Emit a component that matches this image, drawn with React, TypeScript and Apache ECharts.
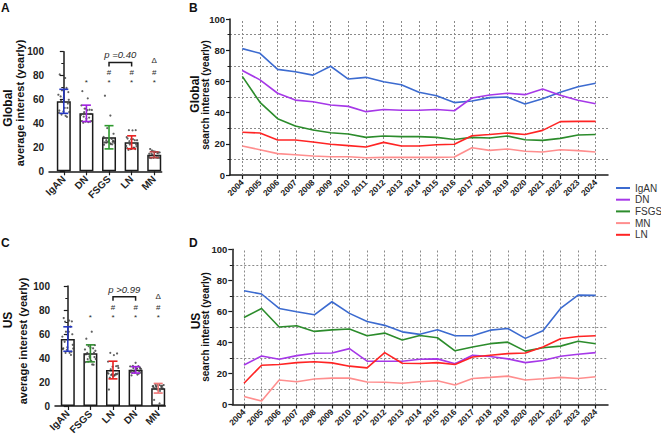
import React, { useEffect, useRef } from 'react';
import * as echarts from 'echarts';

// ---------- data ----------
const years = [2004, 2005, 2006, 2007, 2008, 2009, 2010, 2011, 2012, 2013, 2014, 2015, 2016, 2017, 2018, 2019, 2020, 2021, 2022, 2023, 2024];
const legendNames = ['IgAN', 'DN', 'FSGS', 'MN', 'LN'];

const globalIgAN = [81, 78, 67.7, 66.2, 64, 69.7, 61.5, 62.6, 59.8, 57.9, 53, 50.8, 46.4, 47.4, 49.6, 50, 45.5, 48.9, 53, 56.6, 58.8];
const globalDN = [67, 61, 52.4, 48, 47, 44.9, 44, 40.6, 42, 41.5, 41.5, 42, 41.2, 49.4, 51.3, 52.4, 51.5, 55.1, 51.1, 47.9, 45.7];
const globalFSGS = [63.2, 46.6, 36.1, 31.4, 28.8, 27.1, 26.3, 24.1, 25, 24.6, 24.6, 24.1, 22.8, 24.1, 23.7, 25, 22.6, 22.2, 23.5, 25.6, 26];
const globalMN = [18.6, 16.2, 13.7, 13, 12.2, 11.7, 11.7, 11.1, 11.3, 11.3, 11.3, 11.3, 11.5, 17.5, 15.8, 16.7, 15.2, 14.7, 16.2, 15.6, 14.7];
const globalLN = [27.4, 26.9, 22.4, 22.4, 21.2, 19.7, 18.8, 17.9, 20.9, 18.6, 18.6, 19.4, 19.7, 25.2, 26, 26.9, 26, 28.6, 34.2, 34.4, 34.4];

const usIgAN = [73.3, 71.2, 61.9, 59.8, 57.8, 66.2, 58.7, 53.5, 51, 46.8, 45.2, 48.1, 44.3, 44.3, 47.9, 49, 42.6, 47.5, 61.9, 70.5, 70.3];
const usDN = [25.5, 31.3, 29.2, 31.5, 33, 33.2, 36, 27.9, 27.9, 27.9, 29.2, 29.4, 26.2, 31.7, 30.9, 29.4, 27, 28.3, 31.1, 32.4, 33.4];
const usFSGS = [56.1, 61.9, 49.9, 50.7, 47.1, 48.1, 48.6, 44.3, 46, 41.5, 44.5, 43, 34.6, 37, 39.2, 40.2, 34.4, 36.6, 37.6, 40.8, 39.1];
const usMN = [5.1, 2.2, 15.8, 14.7, 16.4, 17, 17, 14.5, 14.3, 13.7, 14.7, 15.3, 12.6, 16.8, 17.5, 18.3, 15.8, 16.6, 17.5, 16.8, 17.9];
const usLN = [13.7, 25.3, 25.8, 27, 27.5, 26.8, 24.7, 23.6, 33.4, 26.6, 26.4, 27, 25.8, 30.6, 31.7, 32.8, 33.2, 37, 42.4, 43.8, 44.3];

const catsA = ['IgAN', 'DN', 'FSGS', 'LN', 'MN'];
const catsC = ['IgAN', 'FSGS', 'LN', 'DN', 'MN'];

// significance marks: [category, symbol, height]
const marksA: [string, string, number][] = [
  ['DN', '*', 74.5], ['FSGS', '#', 82.5], ['FSGS', '*', 74.5], ['LN', '#', 82.5], ['LN', '*', 74.5],
  ['MN', 'Δ', 92.5], ['MN', '#', 82.5], ['MN', '*', 74.5],
];
const marksC: [string, string, number][] = [
  ['FSGS', '*', 73.5], ['LN', '#', 82], ['LN', '*', 73.5], ['DN', '#', 82], ['DN', '*', 73.5],
  ['MN', 'Δ', 91], ['MN', '#', 82], ['MN', '*', 73.5],
];
const bracketA = { from: 'FSGS', to: 'LN', text: 'p =0.40' };
const bracketC = { from: 'LN', to: 'DN', text: 'p >0.99' };

// ---------- style ----------
const FONT = '"Liberation Sans", Arial, sans-serif';
const AX = '#1b1b1b';
const TXT = '#2a2a2a';
const lineColors: Record<string, string> = { IgAN: '#3C6BD0', DN: '#A638E8', FSGS: '#2C8C2C', MN: '#FF8E8E', LN: '#FF2424' };
const errColorsA: Record<string, string> = { IgAN: '#2638C0', DN: '#A020E0', FSGS: '#2E9A2E', LN: '#E82020', MN: '#B84444' };
const errColorsC: Record<string, string> = { IgAN: '#2638C0', DN: '#A020E0', FSGS: '#2E8A2E', LN: '#E82020', MN: '#F07878' };
const jitter = [-0.18, 0.06, -0.08, 0.2, -0.24, 0.12, 0.0, -0.14, 0.22, -0.04, 0.16, -0.2, 0.08, -0.1, 0.24, -0.02, 0.14, -0.22, 0.04, 0.18, -0.12];

const globalData: Record<string, number[]> = { IgAN: globalIgAN, DN: globalDN, FSGS: globalFSGS, MN: globalMN, LN: globalLN };
const usData: Record<string, number[]> = { IgAN: usIgAN, DN: usDN, FSGS: usFSGS, MN: usMN, LN: usLN };

function mean(a: number[]) { return a.reduce((s, v) => s + v, 0) / a.length; }
function sd(a: number[]) { const m = mean(a); return Math.sqrt(a.reduce((s, v) => s + (v - m) * (v - m), 0) / (a.length - 1)); }

function barPanelSeries(ax: number, cats: string[], data: Record<string, number[]>, errColors: Record<string, string>, marks: [string, string, number][], bracket: { from: string; to: string; text: string }, bracketY: number, textY: number) {
  const s: any[] = [];
  s.push({
    type: 'bar', xAxisIndex: ax, yAxisIndex: ax, barWidth: 14, silent: true, z: 2,
    data: cats.map((c, i) => [i, mean(data[c])]),
    itemStyle: { color: '#ffffff', borderColor: AX, borderWidth: 1.5 },
  });
  s.push({
    type: 'scatter', xAxisIndex: ax, yAxisIndex: ax, symbolSize: 2.2, silent: true, z: 3,
    itemStyle: { color: '#3a3a3a' },
    data: cats.flatMap((c, i) => data[c].map((v, j) => [i + jitter[j], v])),
  });
  s.push({
    type: 'custom', xAxisIndex: ax, yAxisIndex: ax, silent: true, z: 4,
    itemStyle: { color: AX },
    data: cats.map((c, i) => { const m = mean(data[c]); const d = sd(data[c]); return [i, m - d, m + d]; }),
    renderItem: (params: any, api: any) => {
      const x = api.value(0);
      const lo = api.coord([x, api.value(1)]);
      const hi = api.coord([x, api.value(2)]);
      const col = errColors[cats[params.dataIndex]];
      const cw = 4.5;
      const st = { stroke: col, lineWidth: 1.6 };
      return {
        type: 'group', children: [
          { type: 'line', shape: { x1: hi[0], y1: hi[1], x2: lo[0], y2: lo[1] }, style: st },
          { type: 'line', shape: { x1: hi[0] - cw, y1: hi[1], x2: hi[0] + cw, y2: hi[1] }, style: st },
          { type: 'line', shape: { x1: lo[0] - cw, y1: lo[1], x2: lo[0] + cw, y2: lo[1] }, style: st },
        ],
      };
    },
  });
  // significance symbols
  s.push({
    type: 'custom', xAxisIndex: ax, yAxisIndex: ax, silent: true, z: 5,
    itemStyle: { color: TXT },
    data: marks.map(([c, , h]) => [cats.indexOf(c), h]),
    renderItem: (params: any, api: any) => {
      const p = api.coord([api.value(0), api.value(1)]);
      return {
        type: 'text', x: p[0], y: p[1],
        style: { text: marks[params.dataIndex][1], font: `8px ${FONT}`, fill: TXT, textAlign: 'center', textVerticalAlign: 'middle' },
      };
    },
  });
  const i1 = cats.indexOf(bracket.from);
  const i2 = cats.indexOf(bracket.to);
  s.push({
    type: 'custom', xAxisIndex: ax, yAxisIndex: ax, silent: true, z: 5,
    itemStyle: { color: TXT },
    data: [[i1, i2, bracketY, textY]],
    renderItem: (params: any, api: any) => {
      const a = api.coord([api.value(0), api.value(2)]);
      const b = api.coord([api.value(1), api.value(2)]);
      const t = api.coord([(api.value(0) + api.value(1)) / 2, api.value(3)]);
      return {
        type: 'group', children: [
          {
            type: 'polyline',
            shape: { points: [[a[0], a[1] + 4], a, b, [b[0], b[1] + 4]] },
            style: { stroke: AX, lineWidth: 1.5, fill: 'none' },
          },
          {
            type: 'text', x: t[0], y: t[1],
            style: { text: bracket.text, font: `italic 9.5px ${FONT}`, fill: TXT, textAlign: 'center', textVerticalAlign: 'middle' },
          },
        ],
      };
    },
  });
  return s;
}

function lineSeries(ax: number, data: Record<string, number[]>) {
  const s: any[] = [];
  s.push({
    type: 'line', xAxisIndex: ax, yAxisIndex: ax, data: [], silent: true, z: 1,
    markLine: {
      silent: true, symbol: ['none', 'none'], z: 1, animation: false,
      label: { show: false },
      lineStyle: { color: '#8a8a8a', type: [2, 2], width: 1 },
      data: years.map((y) => ({ xAxis: y })),
    },
  });
  ['IgAN', 'DN', 'FSGS', 'LN', 'MN'].forEach((k) => {
    s.push({
      type: 'line', name: k, xAxisIndex: ax, yAxisIndex: ax, showSymbol: false, symbol: 'none', z: 3,
      color: lineColors[k],
      lineStyle: { color: lineColors[k], width: 1.6 },
      data: years.map((y, i) => [y, data[k][i]]),
    });
  });
  return s;
}

function yAxisCfg(grid: number, dotted: boolean, fs: number, margin: number) {
  return {
    type: 'value', gridIndex: grid, min: 0, max: 100, interval: 20,
    axisLine: { show: true, lineStyle: { color: AX, width: 1.5 } },
    axisTick: { show: true, length: 4, lineStyle: { color: AX, width: 1.2 } },
    minorTick: { show: true, splitNumber: 2, length: 2.5, lineStyle: { color: AX, width: 1 } },
    splitLine: { show: false },
    minorSplitLine: { show: dotted, lineStyle: { color: '#8a8a8a', type: [2, 2], width: 1 } },
    axisLabel: { fontSize: fs, fontWeight: 'bold', color: '#222', margin, fontFamily: FONT },
  };
}

function xCatAxisCfg(grid: number, cats: string[], min: number, max: number) {
  const idx = cats.map((_, i) => i);
  return {
    type: 'value', gridIndex: grid, min, max,
    axisLine: { show: true, onZero: false, lineStyle: { color: AX, width: 1.5 } },
    axisTick: { show: true, customValues: idx, length: 4, lineStyle: { color: AX, width: 1.2 } },
    axisLabel: { customValues: idx, formatter: (v: number) => cats[Math.round(v)] ?? '', rotate: 45, fontSize: 10, fontWeight: 'bold', color: '#222', margin: 6, fontFamily: FONT },
    splitLine: { show: false },
  };
}

function xYearAxisCfg(grid: number, min: number, max: number) {
  return {
    type: 'value', gridIndex: grid, min, max,
    axisLine: { show: true, onZero: false, lineStyle: { color: AX, width: 1.5 } },
    axisTick: { show: true, customValues: years, length: 4, lineStyle: { color: AX, width: 1.2 } },
    axisLabel: { customValues: years, formatter: (v: number) => String(v), rotate: 45, fontSize: 8.5, fontWeight: 'bold', color: '#222', margin: 6, fontFamily: FONT },
    splitLine: { show: false },
  };
}

function vText(text: string, x: number, y: number, size: number) {
  return {
    type: 'text', x, y, rotation: Math.PI / 2, silent: true,
    style: { text, font: `bold ${size}px ${FONT}`, fill: '#111', textAlign: 'center', textVerticalAlign: 'middle' },
  };
}
function letter(text: string, x: number, y: number) {
  return {
    type: 'text', x, y, silent: true,
    style: { text, font: `bold 12px ${FONT}`, fill: '#111', textAlign: 'left', textVerticalAlign: 'top' },
  };
}

export default function App() {
  const ref = useRef<HTMLDivElement>(null);
  useEffect(() => {
    if (!ref.current) return;
    const chart = echarts.init(ref.current, undefined, { renderer: 'svg' });
    const option: any = {
      animation: false,
      backgroundColor: '#ffffff',
      textStyle: { fontFamily: FONT },
      grid: [
        { left: 49, top: 51.7, width: 112.7, height: 119.6 },
        { left: 230, top: 19, width: 378, height: 156 },
        { left: 55, top: 286, width: 110.3, height: 120 },
        { left: 232.3, top: 249.3, width: 375.7, height: 155.2 },
      ],
      xAxis: [
        xCatAxisCfg(0, catsA, -0.655, 4.33),
        xYearAxisCfg(1, 2003.304, 2024.7),
        xCatAxisCfg(2, catsC, -0.566, 4.314),
        xYearAxisCfg(3, 2003.335, 2024.7),
      ],
      yAxis: [
        yAxisCfg(0, false, 10, 5),
        yAxisCfg(1, true, 9.5, 5),
        yAxisCfg(2, false, 10, 5),
        yAxisCfg(3, true, 9.5, 5),
      ],
      legend: {
        data: legendNames, orient: 'vertical', left: 616, top: 183, padding: 0,
        itemWidth: 14, itemHeight: 2, itemGap: 1.7, icon: 'rect', selectedMode: false,
        textStyle: { fontSize: 10, color: '#333', fontFamily: FONT, lineHeight: 10 },
      },
      graphic: [
        letter('A', 1, 2), letter('B', 189, 2), letter('C', 1, 237), letter('D', 189, 237),
        vText('Global', 8, 108, 12), vText('average interest (yearly)', 19.5, 103, 11),
        vText('Global', 195, 94, 12), vText('search interest (yearly)', 205, 95, 10),
        vText('US', 8, 320, 12), vText('average interest (yearly)', 23, 341, 11),
        vText('US', 196, 321, 12), vText('search interest (yearly)', 205, 327, 10),
      ],
      series: [
        ...barPanelSeries(0, catsA, globalData, errColorsA, marksA, bracketA, 91, 97.7),
        ...lineSeries(1, globalData),
        ...barPanelSeries(2, catsC, usData, errColorsC, marksC, bracketC, 91, 97.5),
        ...lineSeries(3, usData),
      ],
    };
    chart.setOption(option);
    return () => chart.dispose();
  }, []);
  return <div ref={ref} style={{ position: 'absolute', left: 0, top: 0, width: 661, height: 437 }} />;
}
